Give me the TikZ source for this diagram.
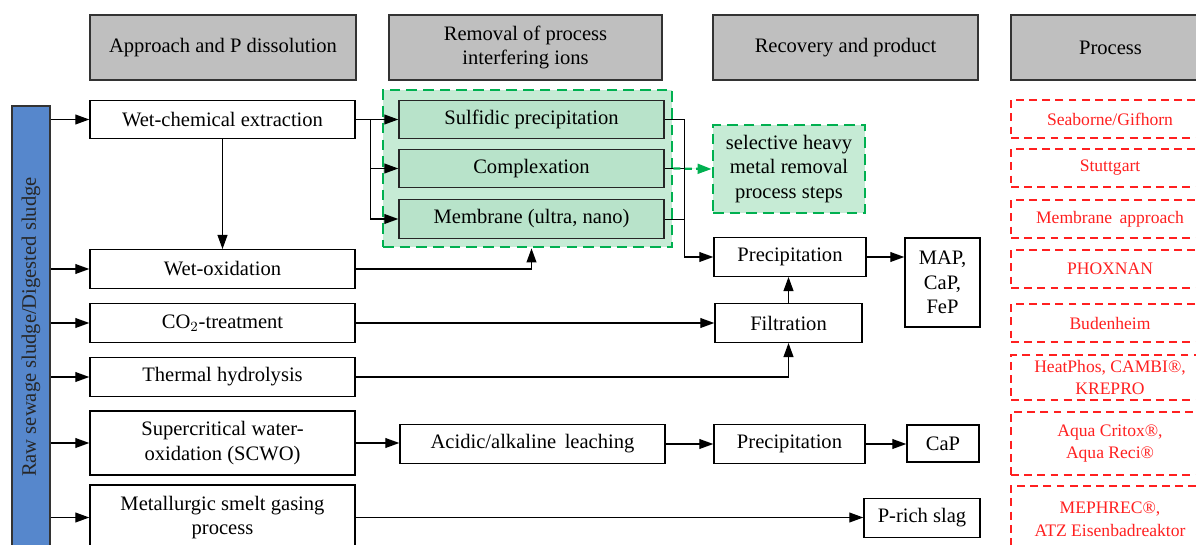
\documentclass[tikz,border=0pt]{standalone}
\usepackage{fontspec}
\setmainfont{Liberation Serif}
\usepackage{tikz}
\usetikzlibrary{
  arrows.meta,
  positioning,
  calc
}
\definecolor{headgray}{RGB}{191,191,191}
\definecolor{sludgeblue}{RGB}{86,135,204}
\definecolor{ionfill}{RGB}{184,227,202}
\definecolor{grpfill}{RGB}{198,235,213}
\definecolor{grpgreen}{RGB}{0,176,80}
\definecolor{techred}{RGB}{255,32,32}
\newcommand{\diagfont}{\fontsize{11.7}{14}\selectfont}
\newcommand{\techfont}{\fontsize{10}{13}\selectfont}
\tikzset{
  headbox/.style={draw=black!80, fill=headgray, line width=0.9pt,
    minimum height=1.3cm, inner sep=0pt,
    align=center, font=\diagfont},
  stepbox/.style={draw, fill=white, line width=0.8pt,
    minimum height=0.77cm, inner sep=0pt,
    align=center, font=\diagfont},
  ionbox/.style={stepbox, fill=ionfill, draw=black!85},
  grpbox/.style={draw=grpgreen, fill=grpfill, line width=1.6pt,
    dash pattern=on 6pt off 3.5pt},
  techbox/.style={draw=techred, line width=0.9pt,
    dash pattern=on 4.5pt off 3pt, text=techred,
    minimum width=3.96cm, minimum height=0.77cm, inner sep=0pt,
    align=center, font=\techfont},
  arr/.style={-{Triangle[length=8pt,width=5.6pt]}, line width=0.8pt},
  garr/.style={-{Triangle[length=8pt,width=5.6pt]}, draw=grpgreen,
    fill=grpgreen, line width=1.3pt, dash pattern=on 4pt off 2.5pt},
}

\begin{document}
\begin{tikzpicture}[x=0.02cm, y=-0.02cm]
  \useasboundingbox (0,0) rectangle (1196,544);
  \clip (0,0) rectangle (1196,544);

  % Column headers
  \node[headbox, minimum width=5.32cm] (hdis) at (223,47.5) {Approach and P dissolution};
  \node[headbox, minimum width=5.46cm] (hion) at (525.5,47.5) {Removal of process\\interfering ions};
  \node[headbox, minimum width=5.30cm] (hrec) at (845.5,47.5) {Recovery and product};
  \node[headbox, minimum width=3.98cm] (hpro) at (1110.5,47.5) {Process};

  % Sludge input
  \node[draw=black!80, fill=sludgeblue, line width=0.9pt,
        minimum width=0.76cm, minimum height=8.84cm, inner sep=0pt] (sludge) at (31,327) {};
  \node[rotate=90, font=\diagfont, text=black!85] at (sludge.center) {Raw sewage sludge/Digested sludge};

  % Dissolution approaches
  \node[stepbox, minimum width=5.30cm] (wce) at (222.5,119.5) {Wet-chemical extraction};
  \node[stepbox, minimum width=5.30cm] (wox) at (222.5,269) {Wet-oxidation};
  \node[stepbox, minimum width=5.30cm] (cot) at (222.5,323) {CO$_2$-treatment};
  \node[stepbox, minimum width=5.30cm] (thy) at (222.5,377) {Thermal hydrolysis};
  \node[stepbox, minimum width=5.30cm, minimum height=1.28cm] (scw) at (222.5,443)
    {Supercritical water-\\oxidation (SCWO)};
  \node[stepbox, minimum width=5.30cm, minimum height=1.30cm] (msg) at (222.5,517.5)
    {Metallurgic smelt gasing\\process};

  % Removal of interfering ions
  \node[grpbox, minimum width=5.78cm, minimum height=3.14cm, inner sep=0pt] (grp) at (527.5,168.5) {};
  \node[ionbox, minimum width=5.30cm] (sul) at (531.5,119.5) {Sulfidic precipitation};
  \node[ionbox, minimum width=5.30cm] (cpx) at (531.5,168.5) {Complexation};
  \node[ionbox, minimum width=5.30cm] (mem) at (531.5,219) {Membrane (ultra, nano)};
  \node[grpbox, minimum width=3.04cm, minimum height=1.76cm, inner sep=0pt,
        align=center, font=\diagfont] (sel) at (789,169)
    {selective heavy\\metal removal\\process steps};
  \node[stepbox, minimum width=5.30cm] (acd) at (532.5,444) {Acidic/alkaline\, leaching};

  % Recovery and products
  \node[stepbox, minimum width=3.04cm] (pre) at (790,257) {Precipitation};
  \node[stepbox, minimum width=2.94cm] (fil) at (788.5,323) {Filtration};
  \node[stepbox, minimum width=3.02cm] (pr2) at (789.5,444) {Precipitation};
  \node[stepbox, minimum width=1.50cm, minimum height=1.78cm] (map) at (942.5,282.5) {MAP,\\CaP,\\FeP};
  \node[stepbox, minimum width=1.44cm, minimum height=0.74cm] (cap) at (943,443.5) {CaP};
  \node[stepbox, minimum width=2.32cm] (slg) at (922,518) {P-rich slag};

  % Process names
  \node[techbox] (tsea) at (1110,119) {Seaborne/Gifhorn};
  \node[techbox] (tstu) at (1110,168) {Stuttgart};
  \node[techbox] (tmem) at (1110,219) {Membrane\, approach};
  \node[techbox] (tpho) at (1110,269) {PHOXNAN};
  \node[techbox] (tbud) at (1110,323) {Budenheim};
  \node[techbox, minimum height=0.90cm] (thea) at (1110,377.5) {HeatPhos, CAMBI®,\\KREPRO};
  \node[techbox, minimum height=1.26cm] (taqu) at (1110,443.5) {Aqua Critox®,\\Aqua Reci®};
  \node[techbox, minimum height=1.32cm] (tmep) at (1110,519) {MEPHREC®,\\ATZ Eisenbadreaktor};

  % Sludge feeds
  \foreach \n in {wce,wox,cot,thy,scw,msg}
    \draw[arr] (sludge.east |- \n.west) -- (\n.west);
  \draw[arr] (wce.south) -- (wce.south |- wox.north);

  % Into ion removal
  \coordinate (split) at ($(wce.east)+(15,0)$);
  \draw (wce.east) -- (split);
  \draw[arr] (split) -- (sul.west);
  \draw[arr] (split) |- (cpx.west);
  \draw[arr] (split) |- (mem.west);
  \draw[arr] (wox.east) -| (grp.south -| mem.south);

  % Out of ion removal
  \coordinate (join) at ($(sul.east)+(20,0)$);
  \draw[arr] (sul.east) -- (join) |- (pre.west);
  \draw (cpx.east) -- (cpx.east -| join);
  \draw (mem.east) -- (mem.east -| join);
  \draw[garr] (grp.east |- cpx.east) -- (sel.west);

  % Recovery
  \draw[arr] (pre.east) -- (pre.east -| map.west);
  \draw[arr] (fil.north) -- (fil.north |- pre.south);
  \draw[arr] (cot.east) -- (cot.east -| fil.west);
  \draw[arr] (thy.east) -| (fil.south);
  \draw[arr] (scw.east) -- (scw.east -| acd.west);
  \draw[arr] (acd.east) -- (acd.east -| pr2.west);
  \draw[arr] (pr2.east) -- (pr2.east -| cap.west);
  \draw[arr] (msg.east) -- (msg.east -| slg.west);
\end{tikzpicture}
\end{document}
